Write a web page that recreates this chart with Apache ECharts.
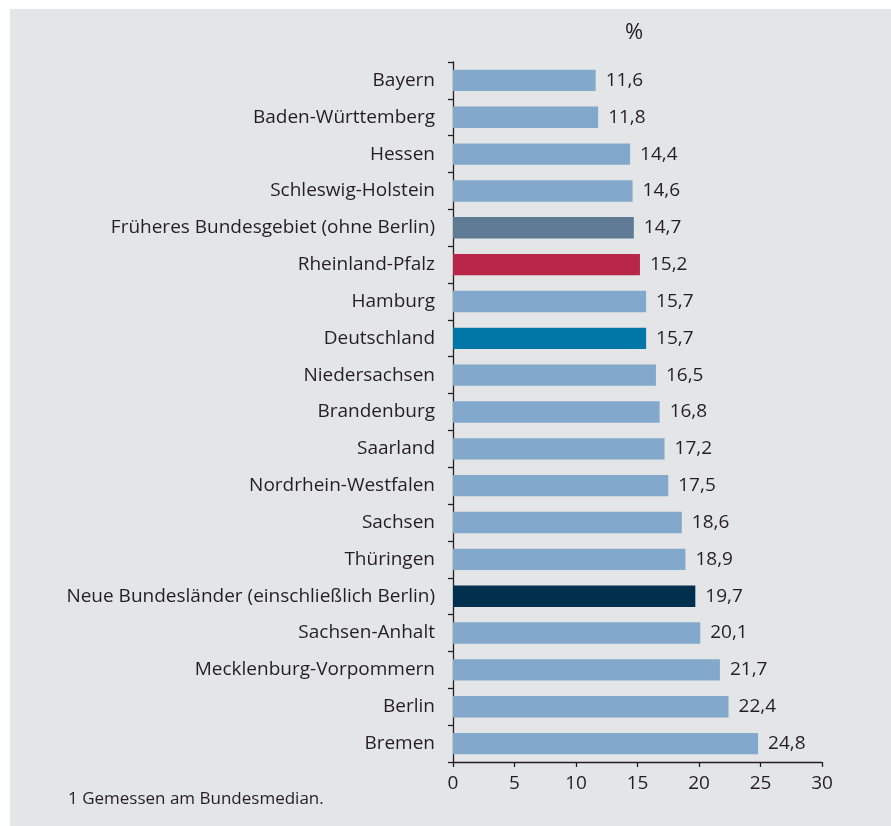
<!DOCTYPE html>
<html>
<head>
<meta charset="utf-8">
<script src="https://cdn.jsdelivr.net/npm/echarts@6/dist/echarts.min.js"></script>
<style>
  html, body { margin: 0; padding: 0; background: #ffffff; }
  #chart { width: 891px; height: 826px; }
</style>
</head>
<body>
<div id="chart"></div>
<script>
// Regions, listed top to bottom
const regions = [
  'Bayern', 'Baden-Württemberg', 'Hessen', 'Schleswig-Holstein',
  'Früheres Bundesgebiet (ohne Berlin)', 'Rheinland-Pfalz', 'Hamburg',
  'Deutschland', 'Niedersachsen', 'Brandenburg', 'Saarland',
  'Nordrhein-Westfalen', 'Sachsen', 'Thüringen',
  'Neue Bundesländer (einschließlich Berlin)', 'Sachsen-Anhalt',
  'Mecklenburg-Vorpommern', 'Berlin', 'Bremen'
];
// Rate in percent
const rates = [
  11.6, 11.8, 14.4, 14.6, 14.7, 15.2, 15.7, 15.7, 16.5, 16.8,
  17.2, 17.5, 18.6, 18.9, 19.7, 20.1, 21.7, 22.4, 24.8
];
const xTicks = [0, 5, 10, 15, 20, 25, 30];
const unitLabel = '%';
const footnote = '1 Gemessen am Bundesmedian.';

const defaultColor = '#82a9cb';
const highlight = {
  'Früheres Bundesgebiet (ohne Berlin)': '#5f7a94',
  'Rheinland-Pfalz': '#b8264a',
  'Deutschland': '#0077a6',
  'Neue Bundesländer (einschließlich Berlin)': '#00304d'
};

const font = '"Open Sans", "Noto Sans", sans-serif';
const textColor = '#231f20';
const fontSize = 19;

const chart = echarts.init(document.getElementById('chart'), null, { renderer: 'canvas' });

const data = regions.map((name, i) => ({
  value: rates[i],
  itemStyle: { color: highlight[name] || defaultColor }
}));

chart.setOption({
  backgroundColor: '#ffffff',
  animation: false,
  graphic: [
    {
      type: 'rect',
      left: 10, top: 9,
      shape: { width: 881, height: 817 },
      style: { fill: '#e4e5e7' },
      z: -10
    },
    {
      type: 'text',
      left: 625, top: 22,
      style: { text: unitLabel, fontSize: 22, fontFamily: font, fill: textColor }
    },
    {
      type: 'text',
      left: 68, top: 791,
      style: { text: footnote, fontSize: 17, fontFamily: font, fill: textColor }
    }
  ],
  grid: { left: 453, right: 69, top: 62, bottom: 64, containLabel: false },
  xAxis: {
    type: 'value',
    min: 0,
    max: 30,
    interval: 5,
    axisLine: { show: true, lineStyle: { color: textColor, width: 1.3 } },
    axisTick: { show: true, length: 5, lineStyle: { color: textColor, width: 1.3 } },
    splitLine: { show: false },
    axisLabel: {
      color: textColor, fontSize: fontSize, fontFamily: font, margin: 12,
      formatter: v => (xTicks.includes(v) ? String(v) : '')
    }
  },
  yAxis: {
    type: 'category',
    inverse: true,
    data: regions,
    axisLine: { show: true, lineStyle: { color: textColor, width: 1.3 } },
    axisTick: { show: true, length: 5, alignWithLabel: false, lineStyle: { color: textColor, width: 1.3 } },
    axisLabel: { color: textColor, fontSize: fontSize, fontFamily: font, margin: 18 }
  },
  series: [{
    type: 'bar',
    data: data,
    barCategoryGap: '42%',
    label: {
      show: true,
      position: 'right',
      distance: 10,
      color: textColor,
      fontSize: fontSize,
      fontFamily: font,
      formatter: p => p.value.toFixed(1).replace('.', ',')
    }
  }]
});
</script>
</body>
</html>
